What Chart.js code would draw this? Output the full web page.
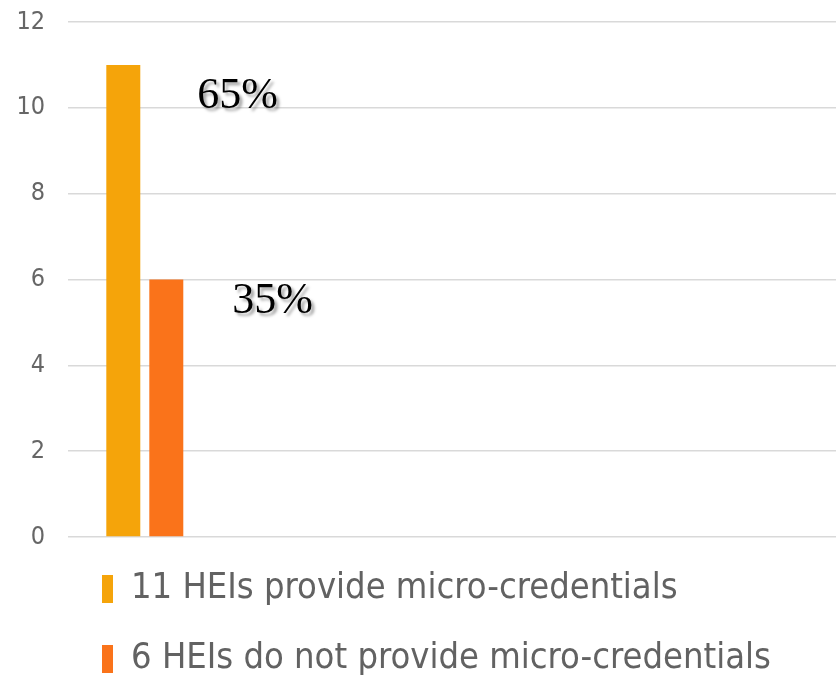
<!DOCTYPE html>
<html>
<head>
<meta charset="utf-8">
<script src="https://cdn.jsdelivr.net/npm/chart.js@4.4.1/dist/chart.umd.min.js"></script>
<style>
  html, body { margin: 0; padding: 0; background: #ffffff; overflow: hidden; }
  #wrap { width: 836px; height: 677px; position: relative; }
</style>
</head>
<body>
<div id="wrap"><canvas id="c"></canvas></div>
<script>
// ---- data ----
const categories = ['HEIs', '', '', '', ''];
const seriesNames = ['11 HEIs provide micro-credentials', '6 HEIs do not provide micro-credentials'];
const provideValues = [11];
const notProvideValues = [6];
const yTicks = [0, 2, 4, 6, 8, 10, 12];

// ---- styles ----
const colors = ['#F5A40A', '#FA731A'];
const labelOffsets = [{dx: 57, dy: 43}, {dx: 49, dy: 33}];
const narrow = "'Liberation Sans Narrow', 'DejaVu Sans Condensed', sans-serif";

const pctLabels = {
  id: 'pctLabels',
  afterDatasetsDraw(chart) {
    const ctx = chart.ctx;
    const totals = chart.data.datasets.map(d => d.data[0]);
    const sum = totals.reduce((a, b) => a + b, 0);
    ctx.save();
    ctx.font = "44px 'Liberation Serif', 'Times New Roman', serif";
    ctx.fillStyle = '#000000';
    ctx.textAlign = 'left';
    ctx.textBaseline = 'alphabetic';
    ctx.shadowColor = 'rgba(0,0,0,0.35)';
    ctx.shadowOffsetX = 3;
    ctx.shadowOffsetY = 3;
    ctx.shadowBlur = 3;
    chart.data.datasets.forEach((ds, i) => {
      const bar = chart.getDatasetMeta(i).data[0];
      const pct = Math.round(ds.data[0] / sum * 100) + '%';
      const off = labelOffsets[i];
      ctx.fillText(pct, bar.x + bar.width / 2 + off.dx, bar.y + off.dy);
    });
    ctx.restore();
  }
};

new Chart(document.getElementById('c'), {
  type: 'bar',
  data: {
    labels: categories,
    datasets: [
      { label: seriesNames[0], data: provideValues, backgroundColor: colors[0] },
      { label: seriesNames[1], data: notProvideValues, backgroundColor: colors[1] }
    ]
  },
  options: {
    responsive: true,
    maintainAspectRatio: false,
    animation: false,
    categoryPercentage: 0.56,
    barPercentage: 0.79,
    layout: { padding: { top: 22, right: 0, left: 0, bottom: -10 } },
    plugins: {
      tooltip: { enabled: false },
      legend: {
        position: 'bottom',
        align: 'start',
        fullSize: false,
        labels: {
          font: { family: narrow, size: 36 },
          color: '#626262',
          boxWidth: 11,
          boxHeight: 28,
          padding: 34
        }
      }
    },
    scales: {
      x: { display: false },
      y: {
        min: 0,
        max: 12,
        afterBuildTicks: (s) => { s.ticks = yTicks.map(v => ({ value: v })); },
        afterFit: (s) => { s.width = 68; s.paddingTop = 0; s.paddingBottom = 0; },
        ticks: {
          font: { family: narrow, size: 25 },
          color: '#666666',
          padding: 23
        },
        border: { display: false },
        grid: { color: '#d9d9d9', lineWidth: 1.5, drawTicks: false }
      }
    }
  },
  plugins: [pctLabels]
});
</script>
</body>
</html>
